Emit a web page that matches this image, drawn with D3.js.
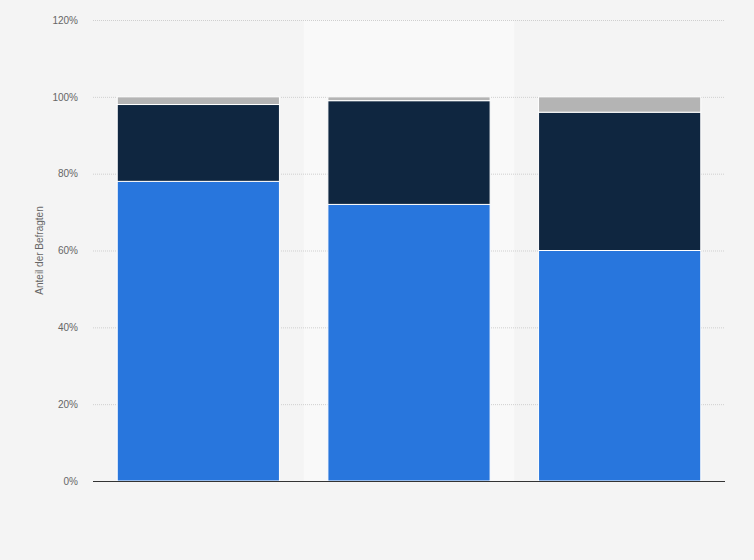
<!DOCTYPE html>
<html>
<head>
<meta charset="utf-8">
<script src="https://cdn.jsdelivr.net/npm/d3@7"></script>
<style>
  body { margin: 0; background: #f4f4f4; }
  #chart { width: 754px; height: 560px; }
</style>
</head>
<body>
<div id="chart"></div>
<script>
var categories = ['A', 'B', 'C'];
var seriesKeys = ['s1', 's2', 's3'];
var seriesColors = ['#2876dd', '#0f2640', '#b4b4b4'];
var s1Values = [78, 72, 60];
var s2Values = [20, 27, 36];
var s3Values = [2, 1, 4];
var yTicks = [0, 20, 40, 60, 80, 100, 120];
var highlighted = 1;

document.addEventListener("DOMContentLoaded", function() {
  var width = 754,
      height = 560,
      margin = {top: 20, right: 29, bottom: 79, left: 93},
      chart = d3.select('#chart').append('svg')
                .attr('width', width)
                .attr('height', height);

  var rows = categories.map(function(c, i) {
    return {cat: c, s1: s1Values[i], s2: s2Values[i], s3: s3Values[i]};
  });

  var stacked = d3.stack().keys(seriesKeys)(rows);

  var x = d3.scaleBand()
    .domain(categories)
    .range([margin.left, width - margin.right])
    .paddingInner(0.23)
    .paddingOuter(0.115);

  var y = d3.scaleLinear()
    .domain([0, 120])
    .range([height - margin.bottom, margin.top]);

  var color = d3.scaleOrdinal().domain(seriesKeys).range(seriesColors);

  // hover band behind middle column
  var step = x.step();
  chart.append('rect')
    .attr('x', x(categories[highlighted]) - step * 0.115)
    .attr('y', margin.top)
    .attr('width', step)
    .attr('height', y(0) - margin.top)
    .attr('fill', '#f9f9f9');

  // grid
  chart.append('g')
    .selectAll('line')
    .data(yTicks.filter(function(d) { return d > 0; }))
    .enter().append('line')
    .attr('x1', margin.left)
    .attr('x2', width - margin.right)
    .attr('y1', function(d) { return y(d) + 0.5; })
    .attr('y2', function(d) { return y(d) + 0.5; })
    .attr('stroke', '#cfcfcf')
    .attr('stroke-dasharray', '1,1');

  // y axis labels
  var yAxis = chart.append('g')
    .attr('transform', 'translate(' + margin.left + ',0)')
    .call(d3.axisLeft(y).tickValues(yTicks)
      .tickFormat(function(d) { return d + '%'; })
      .tickSize(0).tickPadding(15));
  yAxis.select('.domain').remove();
  yAxis.selectAll('text')
    .attr('fill', '#666')
    .style('font-family', 'Arial, "Liberation Sans", sans-serif')
    .style('font-size', '10px');

  chart.append('text')
    .attr('transform', 'translate(43,' + (y(60)) + ') rotate(-90)')
    .attr('text-anchor', 'middle')
    .attr('fill', '#666')
    .style('font-family', 'Arial, "Liberation Sans", sans-serif')
    .style('font-size', '10px')
    .text('Anteil der Befragten');

  // bars
  chart.append('g')
    .selectAll('g')
    .data(stacked)
    .enter().append('g')
    .attr('fill', function(d) { return color(d.key); })
    .selectAll('rect')
    .data(function(d) { return d; })
    .enter().append('rect')
    .attr('x', function(d) { return x(d.data.cat); })
    .attr('y', function(d) { return y(d[1]); })
    .attr('width', x.bandwidth())
    .attr('height', function(d) { return y(d[0]) - y(d[1]); })
    .attr('stroke', '#fff')
    .attr('stroke-width', 1);

  // baseline
  chart.append('line')
    .attr('x1', margin.left)
    .attr('x2', width - margin.right)
    .attr('y1', y(0) + 0.5)
    .attr('y2', y(0) + 0.5)
    .attr('stroke', '#333')
    .attr('stroke-width', 1);
});
</script>
</body>
</html>
